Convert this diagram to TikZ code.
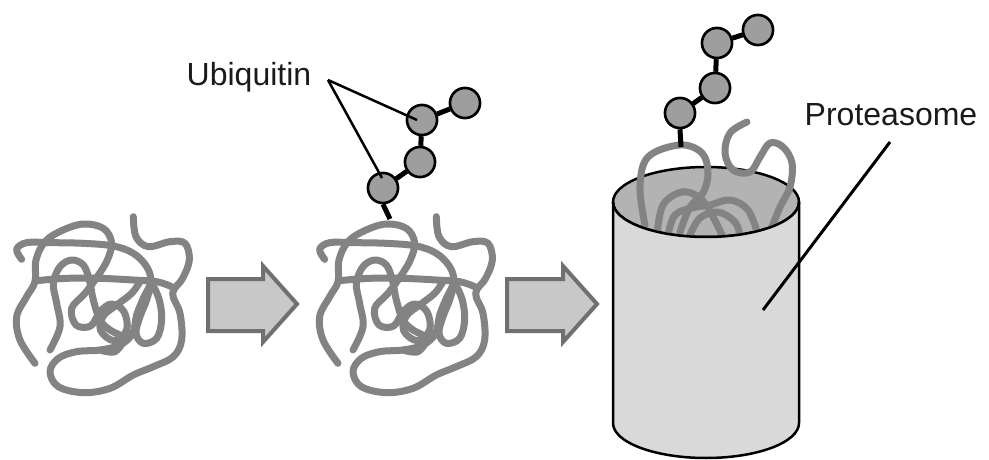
\documentclass[tikz,border=0pt]{standalone}
\usepackage{fontspec}
\setmainfont{Liberation Sans}
\begin{document}
\begin{tikzpicture}[x=1pt,y=-1pt,
  strand/.style={draw=strandgray,line width=7pt,line cap=round,line join=round},
  bigarrow/.style={fill=arrowfill,draw=arrowedge,line width=4pt,line join=miter},
  ubq/.style={circle,draw=black,fill=ubqfill,line width=2.5pt,minimum size=30pt,inner sep=0pt},
  bond/.style={draw=black,line width=5pt},
  pointer/.style={draw=black,line width=2.5pt},
  lbl/.style={font=\fontsize{32}{32}\selectfont,text=labeltext,inner sep=0pt,anchor=base},
  tangle/.pic={
    \begin{scope}[scale=1/3]
      \draw[strand] plot[smooth,tension=0.6] coordinates {
        (400,20) (408,80) (445,110) (510,95) (555,100) (568,150) (548,205)
        (518,250) (540,310) (545,390) (520,440) (460,470) (400,495) (330,535)
        (250,548) (175,530) (150,485) (175,445) (230,425) (300,420) (360,405)
        (398,370) (410,315) (430,265) (452,215) (440,170) (400,130) (340,108)
        (250,100) (150,98) (80,98) (50,118) (65,148)};
      \draw[strand] plot[smooth,tension=0.6] coordinates {
        (105,460) (60,390) (50,320) (80,260) (105,215) (108,150) (135,95)
        (185,62) (250,42) (310,55) (335,98) (322,150) (292,200) (255,250)
        (215,295) (228,345) (272,348) (300,305) (335,282) (372,305) (380,360)
        (342,392) (302,362) (310,318) (350,285) (395,250) (420,215)};
      \draw[strand] plot[smooth,tension=0.6] coordinates {
        (110,212) (200,205) (300,205) (400,210) (470,215) (515,230)};
      \draw[strand] plot[smooth,tension=0.6] coordinates {
        (150,420) (180,350) (170,280) (160,220) (180,170) (215,150) (250,165)
        (268,210) (280,270) (300,330) (330,360) (370,385) (345,425) (300,420)};
      \draw[strand] plot[smooth,tension=0.6] coordinates {
        (455,215) (440,270) (420,320) (408,370) (430,400) (470,385) (485,330)
        (478,270) (460,228)};
    \end{scope}
  }]
\definecolor{strandgray}{HTML}{838383}
\definecolor{arrowfill}{HTML}{C8C8C8}
\definecolor{arrowedge}{HTML}{707070}
\definecolor{ubqfill}{HTML}{9E9E9E}
\definecolor{innergray}{HTML}{B3B3B3}
\definecolor{bodygray}{HTML}{D9D9D9}
\definecolor{labeltext}{HTML}{1A1A1A}

\useasboundingbox (0,0) rectangle (989,460);

% --- free protein ---
\pic at (0,210) {tangle};

% --- first process arrow ---
\draw[bigarrow] (208,279) -- (263,279) -- (263,266) -- (297,304) -- (263,342)
  -- (263,331) -- (208,331) -- cycle;

% --- ubiquitinated protein ---
\pic at (303,210) {tangle};
\coordinate (anchorA) at (390,219);
\node[ubq] (u1) at (383,188) {};
\node[ubq] (u2) at (420,162) {};
\node[ubq] (u3) at (422,120) {};
\node[ubq] (u4) at (465,103) {};
\draw[bond] (anchorA) -- (u1.south);
\draw[bond] (u1) -- (u2) (u2) -- (u3) (u3) -- (u4);
\node[ubq] at (u1) {};
\node[ubq] at (u2) {};
\node[ubq] at (u3) {};
\node[ubq] at (u4) {};

\node[lbl] (ubqlabel) at (249,85) {Ubiquitin};
\coordinate (ubqtip) at (328,80);
\draw[pointer] (ubqtip) -- (417,120);
\draw[pointer] (ubqtip) -- (382,178);

% --- second process arrow ---
\draw[bigarrow] (507,279) -- (563,279) -- (563,266) -- (597,304) -- (563,342)
  -- (563,331) -- (507,331) -- cycle;

% --- proteasome: opening ---
\fill[innergray] (706,202) ellipse [x radius=93,y radius=35];
\draw[black,line width=2.5pt] (706,202) ellipse [x radius=93,y radius=35];

% protein being fed into the opening
\draw[strand] plot[smooth,tension=0.6] coordinates {
  (645,225) (640,187) (648,157) (680,145) (702,153) (708,173) (703,193)
  (690,207) (680,232)};
\draw[strand] plot[smooth,tension=0.6] coordinates {
  (747,122) (730,133) (725,153) (733,170) (750,172) (760,157) (770,143)
  (783,147) (792,163) (790,187) (780,207) (770,232)};
\draw[strand] plot[smooth,tension=0.6] coordinates {
  (657,235) (663,205) (682,192) (700,198) (712,215) (722,235)};
\draw[strand] plot[smooth,tension=0.6] coordinates {
  (668,235) (675,215) (692,208) (710,205) (730,200) (748,210) (758,235)};
\draw[strand] plot[smooth,tension=0.6] coordinates {
  (690,235) (700,218) (718,212) (735,222) (740,236)};

% --- proteasome: body (front half of the rim down to the base) ---
\fill[bodygray] (613,202) arc[start angle=180,end angle=0,x radius=93,y radius=35]
  -- (799,423) arc[start angle=0,end angle=180,x radius=93,y radius=35] -- cycle;
\draw[black,line width=2.5pt] (613,202) -- (613,423)
  arc[start angle=180,end angle=0,x radius=93,y radius=35] -- (799,202);
\draw[black,line width=2.5pt] (613,202)
  arc[start angle=180,end angle=0,x radius=93,y radius=35];

% ubiquitin chain on the substrate
\coordinate (anchorB) at (681,147);
\node[ubq] (v1) at (680,113) {};
\node[ubq] (v2) at (715,88) {};
\node[ubq] (v3) at (717,43) {};
\node[ubq] (v4) at (758,30) {};
\draw[bond] (anchorB) -- (v1.south);
\draw[bond] (v1) -- (v2) (v2) -- (v3) (v3) -- (v4);
\node[ubq] at (v1) {};
\node[ubq] at (v2) {};
\node[ubq] at (v3) {};
\node[ubq] at (v4) {};

\node[lbl] (protlabel) at (891,125) {Proteasome};
\coordinate (prottip) at (763,310);
\draw[pointer,line width=3pt] (890,142) -- (prottip);
\end{tikzpicture}
\end{document}
